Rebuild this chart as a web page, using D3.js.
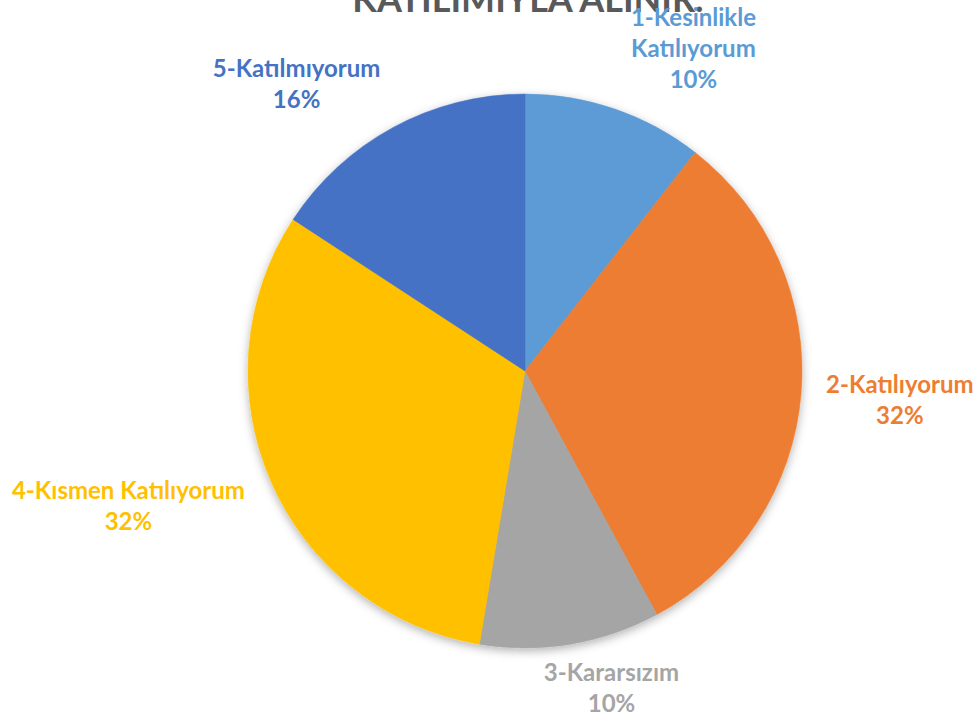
<!DOCTYPE html>
<html>
<head>
<meta charset="utf-8">
<script src="https://cdn.jsdelivr.net/npm/d3@7"></script>
<style>
  html, body { margin: 0; padding: 0; background: #fff; }
  svg { display: block; }
  text { font-family: Lato, 'Open Sans', sans-serif; font-weight: bold; }
</style>
</head>
<body>
<div id="chart"></div>
<script>
// answers per option (19 respondents)
const categories = ['1-Kesinlikle Katılıyorum', '2-Katılıyorum', '3-Kararsızım', '4-Kısmen Katılıyorum', '5-Katılmıyorum']
const counts = [2, 6, 2, 6, 3]
// label lines as Excel wrapped them, and the percentages it printed
const labelLines = [['1-Kesinlikle', 'Katılıyorum'], ['2-Katılıyorum'], ['3-Kararsızım'], ['4-Kısmen Katılıyorum'], ['5-Katılmıyorum']]
const pctLabels = ['10%', '32%', '10%', '32%', '16%']
const title = 'KATILIMIYLA ALINIR.'

const colors = ['#5B9BD5', '#ED7D31', '#A5A5A5', '#FFC000', '#4472C4']
// best-fit nudges for the outside labels
const labelNudge = [[59, -4], [39, 1], [31, -15], [-88, 0], [-68, 9]]

const width = 979
const height = 722
const cx = 525
const cy = 371
const radius = 277
const lineH = 31

const svg = d3.select('#chart')
	.append('svg')
	.attr('width', width)
	.attr('height', height)

const defs = svg.append('defs')
const shadow = defs.append('filter')
	.attr('id', 'shadow')
	.attr('x', '-10%').attr('y', '-10%')
	.attr('width', '120%').attr('height', '120%')
shadow.append('feDropShadow')
	.attr('dx', 0)
	.attr('dy', 3)
	.attr('stdDeviation', 5)
	.attr('flood-color', '#000')
	.attr('flood-opacity', 0.3)

svg.append('text')
	.attr('x', 528)
	.attr('y', 12)
	.attr('text-anchor', 'middle')
	.attr('fill', '#595959')
	.style('font-size', '36px')
	.text(title)

const data = categories.map((c, i) => ({ name: c, value: counts[i], lines: labelLines[i], i }))

const pie = d3.pie().value((d) => d.value).sort(null)
const arcs = pie(data)

const arc = d3.arc().innerRadius(0).outerRadius(radius)
const labelArc = d3.arc().innerRadius(radius + 60).outerRadius(radius + 60)

const g = svg.append('g').attr('transform', `translate(${cx},${cy})`)

g.append('g')
	.attr('filter', 'url(#shadow)')
	.selectAll('path')
	.data(arcs)
	.join('path')
	.attr('d', arc)
	.attr('fill', (d) => colors[d.data.i])
	.attr('stroke', (d) => colors[d.data.i])
	.attr('stroke-width', 0.5)

const labels = g.selectAll('g.label')
	.data(arcs)
	.join('g')
	.attr('class', 'label')
	.attr('transform', (d) => {
		const [x, y] = labelArc.centroid(d)
		const [nx, ny] = labelNudge[d.data.i]
		return `translate(${x + nx},${y + ny})`
	})

labels.each(function (d) {
	const lines = d.data.lines.concat([pctLabels[d.data.i]])
	const top = -((lines.length - 1) * lineH) / 2
	d3.select(this)
		.selectAll('text')
		.data(lines)
		.join('text')
		.attr('x', 0)
		.attr('y', (_, k) => top + k * lineH)
		.attr('dy', '0.35em')
		.attr('text-anchor', 'middle')
		.attr('fill', colors[d.data.i])
		.style('font-size', '24px')
		.text((t) => t)
})
</script>
</body>
</html>
